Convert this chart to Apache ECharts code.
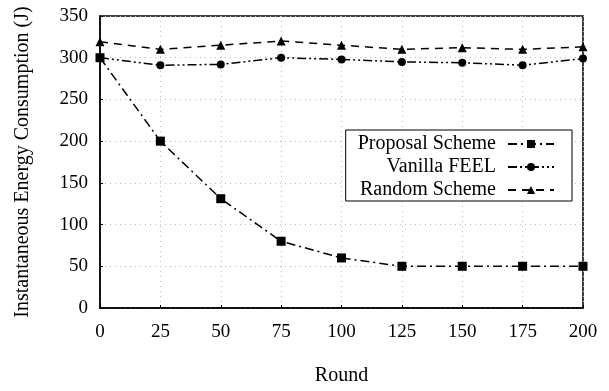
<!DOCTYPE html>
<html>
<head>
<meta charset="utf-8">
<script src="https://cdn.jsdelivr.net/npm/echarts@6/dist/echarts.min.js"></script>
<style>html,body{margin:0;padding:0;background:#fff;}#c{width:609px;height:391px;}</style>
</head>
<body>
<div id="c"></div>
<script>
const rounds = [0, 25, 50, 75, 100, 125, 150, 175, 200];
const proposal = [300, 200, 131, 80, 60, 50, 50, 50, 50];
const vanilla = [300, 291, 292, 300, 298, 295, 294, 291, 299];
const randomScheme = [319, 310, 315, 320, 315, 310, 312, 310, 313];
const seriesNames = ['Proposal Scheme', 'Vanilla FEEL', 'Random Scheme'];

const font = 'Liberation Serif';
const chart = echarts.init(document.getElementById('c'));
const pair = a => rounds.map((r, i) => [r, a[i]]);
chart.setOption({
  animation: false,
  grid: {left: 100, right: 26, top: 16, bottom: 77, show: true, borderColor: '#000', borderWidth: 1.5},
  legend: {
    right: 37, top: 130,
    orient: 'vertical', align: 'right',
    itemWidth: 46, itemHeight: 10, itemGap: 3,
    backgroundColor: '#fff', borderColor: '#000', borderWidth: 1,
    padding: [4, 17, 1, 12],
    textStyle: {fontFamily: font, fontSize: 20, color: '#000', padding: [0, 7, 0, 0]},
    data: seriesNames
  },
  xAxis: {
    type: 'value', min: 0, max: 200, interval: 25,
    name: 'Round', nameLocation: 'middle', nameGap: 58,
    nameTextStyle: {fontFamily: font, fontSize: 20, color: '#000'},
    axisLine: {lineStyle: {color: '#000', width: 1.5}},
    axisTick: {inside: true, length: 3, lineStyle: {color: '#000'}},
    axisLabel: {fontFamily: font, fontSize: 19, color: '#000', margin: 15},
    splitLine: {show: true, lineStyle: {color: '#bbb', type: [1, 4], width: 1}}
  },
  yAxis: {
    type: 'value', min: 0, max: 350, interval: 50,
    name: 'Instantaneous Energy Consumption (J)', nameLocation: 'middle', nameGap: 67,
    nameTextStyle: {fontFamily: font, fontSize: 20, color: '#000'},
    axisLine: {lineStyle: {color: '#000', width: 1.5}},
    axisTick: {inside: true, length: 3, lineStyle: {color: '#000'}},
    axisLabel: {fontFamily: font, fontSize: 19, color: '#000', margin: 12},
    splitLine: {show: true, lineStyle: {color: '#bbb', type: [1, 4], width: 1}}
  },
  series: [
    {name: seriesNames[0], type: 'line', data: pair(proposal), symbol: 'rect', symbolSize: 9,
     itemStyle: {color: '#000'}, lineStyle: {color: '#000', width: 1.5, type: [9, 4, 2, 4]}},
    {name: seriesNames[1], type: 'line', data: pair(vanilla), symbol: 'circle', symbolSize: 8,
     itemStyle: {color: '#000'}, lineStyle: {color: '#000', width: 1.5, type: [9, 3, 2, 3, 2, 3]}},
    {name: seriesNames[2], type: 'line', data: pair(randomScheme), symbol: 'triangle', symbolSize: 9,
     itemStyle: {color: '#000'}, lineStyle: {color: '#000', width: 1.5, type: [8, 6]}}
  ]
});
</script>
</body>
</html>
